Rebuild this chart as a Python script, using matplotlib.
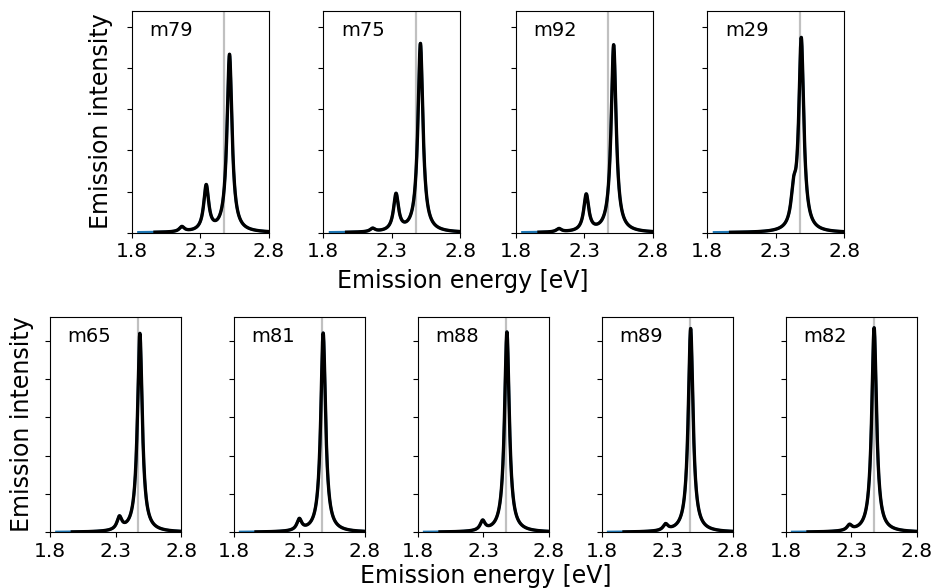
import matplotlib
matplotlib.use("Agg")
import matplotlib.pyplot as plt
import numpy as np

# molecules in each row
names_top = ["m79", "m75", "m92", "m29"]
names_bot = ["m65", "m81", "m88", "m89", "m82"]

# stick spectra: line energies [eV] and heights
lines_top = [[2.514, 2.344, 2.166],
             [2.509, 2.331, 2.160],
             [2.515, 2.315, 2.115],
             [2.486, 2.430]]
heights_top = [[4.32, 1.10, 0.12],
               [4.59, 0.89, 0.08],
               [4.56, 0.89, 0.08],
               [4.65, 0.74]]
lines_bot = [[2.485, 2.329],
             [2.482, 2.300],
             [2.480, 2.295],
             [2.478, 2.287],
             [2.474, 2.286]]
heights_bot = [[5.19, 0.33],
               [5.20, 0.29],
               [5.23, 0.25],
               [5.32, 0.16],
               [5.34, 0.14]]

gamma = 0.022      # lorentzian half width [eV]
e_ref = 2.473      # reference line (grey)


def spectrum(x, centres, heights):
    y = np.zeros_like(x)
    for c, h in zip(centres, heights):
        y = y + h / (1 + ((x - c) / gamma)**2)
    return y


def panel(ax, name, centres, heights, ytop):
    x_blue = np.linspace(1.85, 2.85, 1201)
    x_black = np.linspace(1.97, 2.85, 1101)
    ax.axvline(e_ref, color='#c0c0c0', lw=1.6, zorder=1)
    ax.plot(x_blue, spectrum(x_blue, centres, heights), color='#1f77b4', lw=2.0, zorder=2)
    ax.plot(x_black, spectrum(x_black, centres, heights), color='k', lw=2.4, zorder=3)
    ax.set_xlim(1.8, 2.8)
    ax.set_ylim(0, ytop)
    ax.set_xticks([1.8, 2.3, 2.8])
    ax.set_xticklabels(["1.8", "2.3", "2.8"])
    ax.set_yticks([0, 1, 2, 3, 4, 5])
    ax.set_yticklabels([])
    ax.tick_params(labelsize=14.5)
    ax.text(0.13, 0.91, name, transform=ax.transAxes, fontsize=14, va='center', ha='left')


W, H = 935, 588
fig = plt.figure(figsize=(W / 100, H / 100), dpi=100)

lefts_top = [131.7, 323.3, 515.7, 707.3]
for i in range(4):
    ax = fig.add_axes([lefts_top[i] / W, (H - 232.7) / H, 137 / W, 221.7 / H])
    panel(ax, names_top[i], lines_top[i], heights_top[i], 5.39)

lefts_bot = [50, 233.7, 417.7, 601.7, 785.7]
for i in range(5):
    ax = fig.add_axes([lefts_bot[i] / W, (H - 532.3) / H, 131.2 / W, 215.6 / H])
    panel(ax, names_bot[i], lines_bot[i], heights_bot[i], 5.63)

fig.text(463 / W, 1 - 281 / H, "Emission energy [eV]", fontsize=17, ha='center', va='center')
fig.text(486 / W, 1 - 576 / H, "Emission energy [eV]", fontsize=17, ha='center', va='center')
fig.text(101 / W, 1 - 121 / H, "Emission intensity", fontsize=17, ha='center', va='center', rotation=90)
fig.text(22 / W, 1 - 424 / H, "Emission intensity", fontsize=17, ha='center', va='center', rotation=90)

fig.savefig("out.png", dpi=100)
